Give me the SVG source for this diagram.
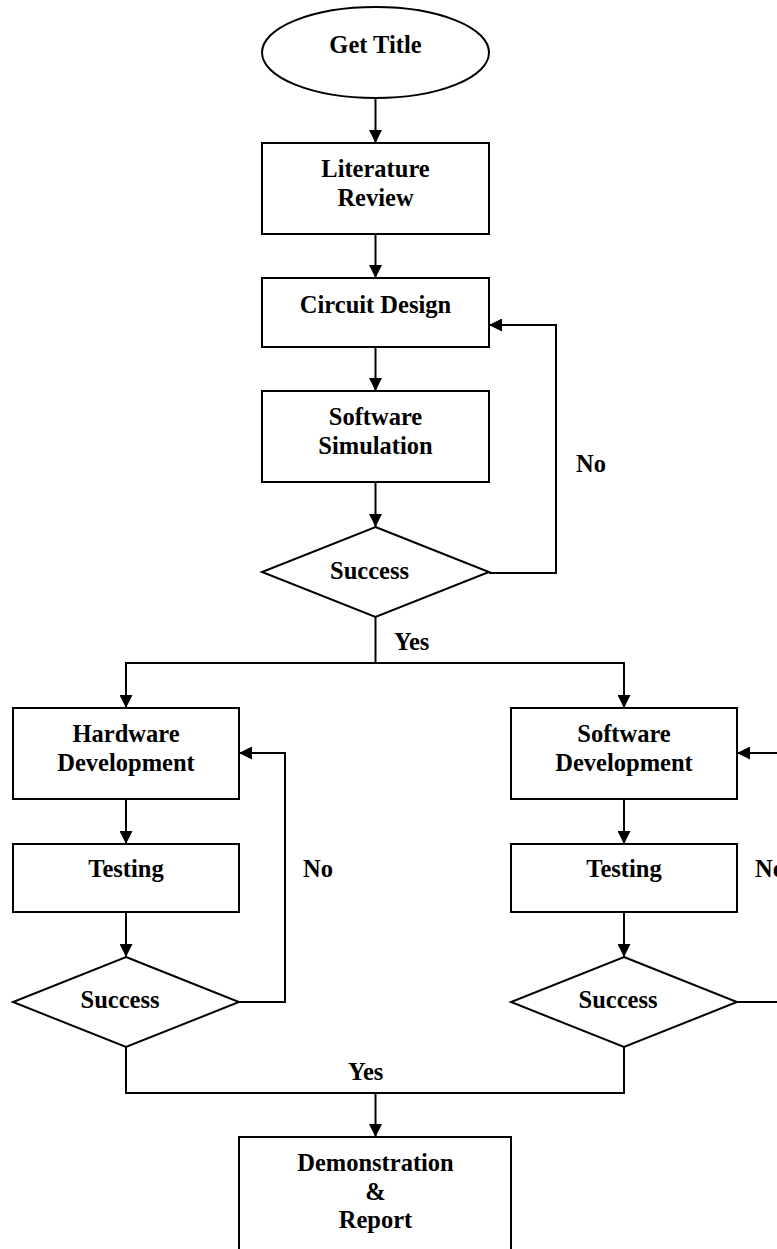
<svg xmlns="http://www.w3.org/2000/svg" width="777" height="1249" viewBox="0 0 777 1249">
  <style>
    .shape { fill: #ffffff; stroke: #000000; stroke-width: 2; }
    .wire { fill: none; stroke: #000000; stroke-width: 2; }
    .lbl { font-family: "Liberation Serif", "Times New Roman", serif; font-weight: bold; font-size: 24.5px; fill: #000000; text-anchor: middle; }
    .tag { font-family: "Liberation Serif", "Times New Roman", serif; font-weight: bold; font-size: 24.5px; fill: #000000; }
  </style>
  <defs>
    <marker id="arrow" viewBox="0 0 13 13" refX="13" refY="6.5" markerWidth="13" markerHeight="13" markerUnits="userSpaceOnUse" orient="auto">
      <path d="M0,0 L13,6.5 L0,13 Z" fill="#000000"/>
    </marker>
  </defs>
  <rect width="777" height="1249" fill="#ffffff"/>

  <!-- connectors -->
  <g id="connectors">
    <line class="wire" x1="375.5" y1="98" x2="375.5" y2="143" marker-end="url(#arrow)"/>
    <line class="wire" x1="375.5" y1="234" x2="375.5" y2="278" marker-end="url(#arrow)"/>
    <line class="wire" x1="375.5" y1="347" x2="375.5" y2="391" marker-end="url(#arrow)"/>
    <line class="wire" x1="375.5" y1="482" x2="375.5" y2="527" marker-end="url(#arrow)"/>
    <!-- retry loop after simulation -->
    <polyline class="wire" points="489,573 556,573 556,325 489,325" marker-end="url(#arrow)"/>
    <!-- split into hardware / software -->
    <polyline class="wire" points="375.5,617 375.5,663 126,663 126,708" marker-end="url(#arrow)"/>
    <polyline class="wire" points="375.5,663 624,663 624,708" marker-end="url(#arrow)"/>
    <!-- hardware branch -->
    <line class="wire" x1="126" y1="799" x2="126" y2="844" marker-end="url(#arrow)"/>
    <line class="wire" x1="126" y1="912" x2="126" y2="957" marker-end="url(#arrow)"/>
    <polyline class="wire" points="239,1002 285,1002 285,753 239,753" marker-end="url(#arrow)"/>
    <!-- software branch -->
    <line class="wire" x1="624" y1="799" x2="624" y2="844" marker-end="url(#arrow)"/>
    <line class="wire" x1="624" y1="912" x2="624" y2="957" marker-end="url(#arrow)"/>
    <line class="wire" x1="737" y1="1002" x2="780" y2="1002"/>
    <line class="wire" x1="780" y1="753" x2="737" y2="753" marker-end="url(#arrow)"/>
    <!-- merge into final step -->
    <polyline class="wire" points="126,1047 126,1093 624,1093 624,1047"/>
    <line class="wire" x1="375.5" y1="1093" x2="375.5" y2="1137" marker-end="url(#arrow)"/>
  </g>

  <g id="get-title">
    <ellipse class="shape" cx="375.5" cy="52.5" rx="113.5" ry="45.5"/>
    <text class="lbl" x="375.5" y="53">Get Title</text>
  </g>
  <g id="literature-review">
    <rect class="shape" x="262" y="143" width="227" height="91"/>
    <text class="lbl" x="375.5" y="177">Literature</text>
    <text class="lbl" x="375.5" y="206">Review</text>
  </g>
  <g id="circuit-design">
    <rect class="shape" x="262" y="278" width="227" height="69"/>
    <text class="lbl" x="375.5" y="313">Circuit Design</text>
  </g>
  <g id="software-simulation">
    <rect class="shape" x="262" y="391" width="227" height="91"/>
    <text class="lbl" x="375.5" y="425">Software</text>
    <text class="lbl" x="375.5" y="454">Simulation</text>
  </g>
  <g id="success-sim">
    <polygon class="shape" points="375.5,527 489,572 375.5,617 262,572"/>
    <text class="lbl" x="369.5" y="579">Success</text>
  </g>
  <g id="hardware-development">
    <rect class="shape" x="13" y="708" width="226" height="91"/>
    <text class="lbl" x="126" y="742">Hardware</text>
    <text class="lbl" x="126" y="771">Development</text>
  </g>
  <g id="hardware-testing">
    <rect class="shape" x="13" y="844" width="226" height="68"/>
    <text class="lbl" x="126" y="877">Testing</text>
  </g>
  <g id="success-hardware">
    <polygon class="shape" points="126,957 239,1002 126,1047 13,1002"/>
    <text class="lbl" x="120" y="1008">Success</text>
  </g>
  <g id="software-development">
    <rect class="shape" x="511" y="708" width="226" height="91"/>
    <text class="lbl" x="624" y="742">Software</text>
    <text class="lbl" x="624" y="771">Development</text>
  </g>
  <g id="software-testing">
    <rect class="shape" x="511" y="844" width="226" height="68"/>
    <text class="lbl" x="624" y="877">Testing</text>
  </g>
  <g id="success-software">
    <polygon class="shape" points="624,957 737,1002 624,1047 511,1002"/>
    <text class="lbl" x="618" y="1008">Success</text>
  </g>
  <g id="demonstration-report">
    <rect class="shape" x="239" y="1137" width="272" height="130"/>
    <text class="lbl" x="375.5" y="1171">Demonstration</text>
    <text class="lbl" x="375.5" y="1200">&amp;</text>
    <text class="lbl" x="375.5" y="1228">Report</text>
  </g>

  <!-- branch labels -->
  <g id="labels">
    <text class="tag" x="576" y="472">No</text>
    <text class="tag" x="394" y="650">Yes</text>
    <text class="tag" x="303" y="877">No</text>
    <text class="tag" x="755" y="877">No</text>
    <text class="tag" x="348" y="1080">Yes</text>
  </g>
</svg>
